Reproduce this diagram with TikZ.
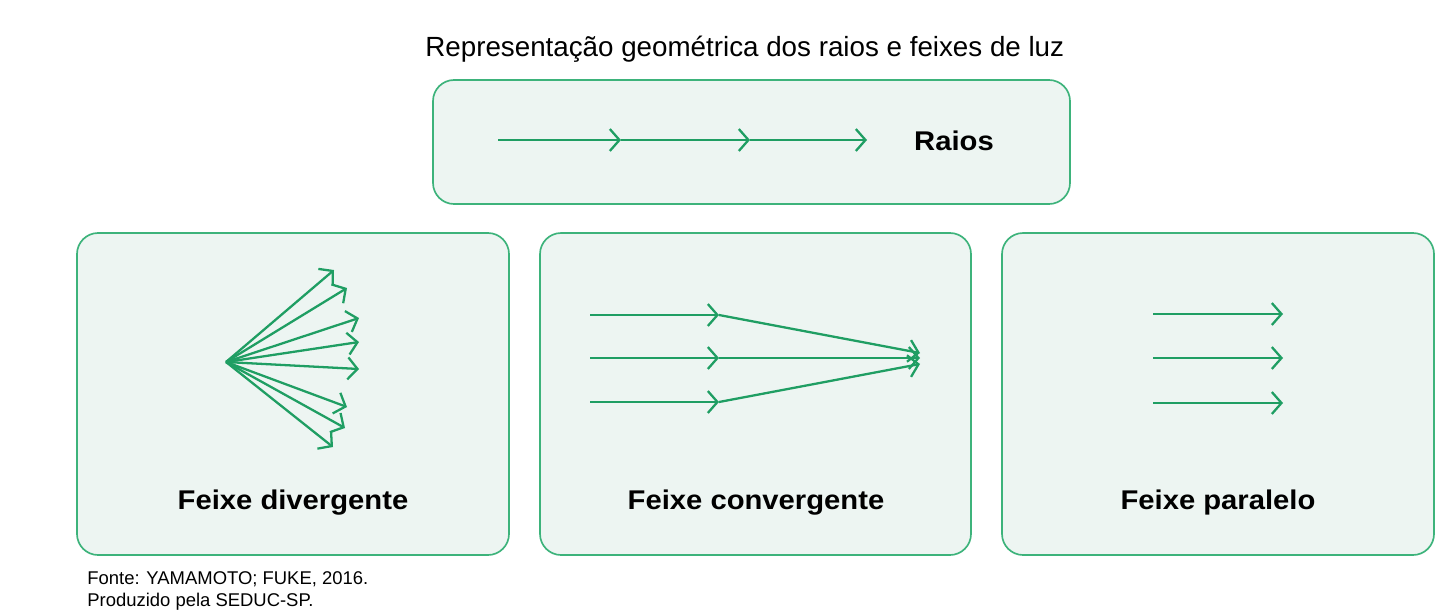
\documentclass[tikz,border=0pt]{standalone}
\usepackage{fontspec}
\setmainfont{Liberation Sans}
\newfontfamily\boldlab[FakeStretch=1.08]{Liberation Sans Bold}
\usetikzlibrary{arrows.meta}
\definecolor{ray}{HTML}{1F9E63}
\definecolor{boxline}{HTML}{3DB37B}
\definecolor{boxfill}{HTML}{EDF5F2}
\tikzset{
  panel/.style={draw=boxline, fill=boxfill, line width=0.95pt, rounded corners=12pt},
  beam/.style={draw=ray, line width=1.3pt, -{Straight Barb[length=5.5pt,width=12.5pt,line width=1.3pt]}},
  lab/.style={font=\boldlab\fontsize{15.4}{18}\selectfont, anchor=base, inner sep=0pt},
  titlelab/.style={font=\fontsize{15.8}{19}\selectfont, anchor=base west, inner sep=0pt},
  foot/.style={font=\fontsize{10.5}{12.6}\selectfont, anchor=base west, inner sep=0pt}
}
\begin{document}
\begin{tikzpicture}[x=0.02cm,y=-0.02cm]
\useasboundingbox (0,0) rectangle (1452,612);
\fill[white] (0,0) rectangle (1452,612);

% title
\node[titlelab] (title) at (425,56) {Representação geométrica dos raios e feixes de luz};

% panels
\draw[panel] (433,80) rectangle (1070,204);
\draw[panel] (77,233) rectangle (509,555);
\draw[panel] (540,233) rectangle (971,555);
\draw[panel] (1002,233) rectangle (1434,555);

% Raios
\coordinate (r0) at (498,140);
\coordinate (r1) at (621,140);
\coordinate (r2) at (750,140);
\coordinate (r3) at (867,140);
\draw[beam] (r0) -- (r1);
\draw[beam] (r1) -- (r2);
\draw[beam] (r2) -- (r3);
\node[lab] (raios) at (954,150) {Raios};

% Feixe divergente
\coordinate (o) at (226,362);
\coordinate (d1) at (334,270);
\coordinate (d2) at (347,288);
\coordinate (d3) at (359,318);
\coordinate (d4) at (359,342);
\coordinate (d5) at (359,369);
\coordinate (d6) at (347,407);
\coordinate (d7) at (345,428);
\coordinate (d8) at (333,447);
\foreach \d in {d1,d2,d3,d4,d5,d6,d7,d8} \draw[beam] (o) -- (\d);
\node[lab] (ldiv) at (293,509) {Feixe divergente};

% Feixe convergente
\coordinate (ca0) at (590,315);
\coordinate (cb0) at (590,358);
\coordinate (cc0) at (590,402);
\coordinate (ca1) at (719,315);
\coordinate (cb1) at (719,358);
\coordinate (cc1) at (719,402);
\coordinate (ca2) at (920,353);
\coordinate (cb2) at (920,358);
\coordinate (cc2) at (920,364);
\draw[beam] (ca0) -- (ca1);
\draw[beam] (cb0) -- (cb1);
\draw[beam] (cc0) -- (cc1);
\draw[beam] (ca1) -- (ca2);
\draw[beam] (cb1) -- (cb2);
\draw[beam] (cc1) -- (cc2);
\node[lab] (lcon) at (756,509) {Feixe convergente};

% Feixe paralelo
\coordinate (pa0) at (1153,314);
\coordinate (pb0) at (1153,358);
\coordinate (pc0) at (1153,403);
\coordinate (pa1) at (1283,314);
\coordinate (pb1) at (1283,358);
\coordinate (pc1) at (1283,403);
\draw[beam] (pa0) -- (pa1);
\draw[beam] (pb0) -- (pb1);
\draw[beam] (pc0) -- (pc1);
\node[lab] (lpar) at (1218,509) {Feixe paralelo};

% footer
\node[foot] (f1) at (87,584) {Fonte: YAMAMOTO; FUKE, 2016.};
\node[foot] (f2) at (87,606) {Produzido pela SEDUC-SP.};
\end{tikzpicture}
\end{document}
